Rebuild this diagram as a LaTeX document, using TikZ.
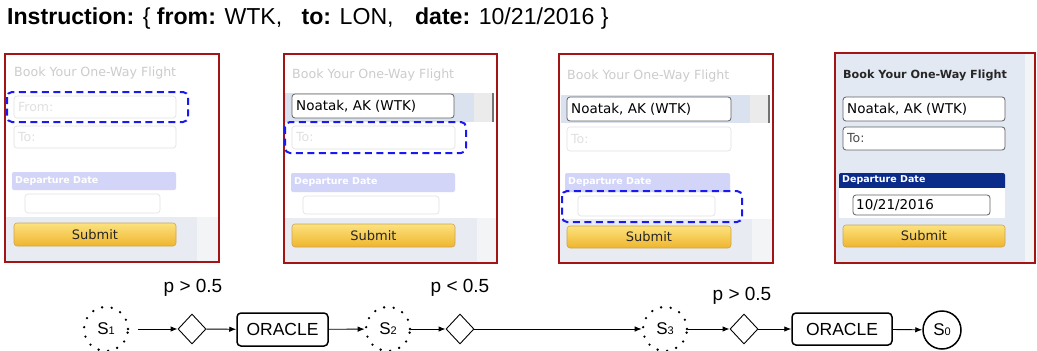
\documentclass[tikz,border=0pt]{standalone}
\usepackage{fontspec}
\setmainfont{Liberation Sans}
\newfontfamily\uifont{DejaVu Sans}
\usetikzlibrary{arrows.meta,shapes.geometric}
\definecolor{panelred}{HTML}{A31414}
\definecolor{focusblue}{HTML}{1A1AF0}
\definecolor{bandblue}{HTML}{D9E2EE}
\definecolor{lowgrey}{HTML}{E8ECF2}
\definecolor{lightside}{HTML}{F3F4F6}
\definecolor{fadebar}{HTML}{D2D5F7}
\definecolor{navy}{HTML}{0B2B8A}
\definecolor{btntop}{HTML}{FCE27E}
\definecolor{btnbot}{HTML}{EFB52E}
\definecolor{btnline}{HTML}{CDA550}
\definecolor{p4bg}{HTML}{E2E9F3}
\begin{document}
\begin{tikzpicture}[x=1pt,y=-1pt,
  panel/.style={draw=panelred, line width=2pt},
  field/.style={draw=black!62, fill=white, rounded corners=3pt, line width=0.8pt},
  faded/.style={draw=black!12, fill=white, rounded corners=3pt, line width=0.6pt},
  submitbtn/.style={draw=btnline, top color=btntop, bottom color=btnbot, rounded corners=3pt, line width=0.6pt},
  focus/.style={draw=focusblue, line width=2pt, dash pattern=on 7pt off 4.5pt, rounded corners=5pt},
  booktxt/.style={anchor=west, inner sep=0pt, font=\uifont\fontsize{12.6}{13}\selectfont, text=black!20},
  fieldtxt/.style={anchor=west, inner sep=0pt, font=\uifont\fontsize{13.5}{14}\selectfont},
  phtxt/.style={anchor=west, inner sep=0pt, font=\uifont\fontsize{12.5}{13}\selectfont, text=black!12},
  deptxt/.style={anchor=west, inner sep=0pt, font=\uifont\bfseries\fontsize{9.5}{10}\selectfont, text=white},
  subtxt/.style={inner sep=0pt, font=\uifont\fontsize{13}{14}\selectfont, text=black!85},
  state/.style={circle, minimum size=44pt, inner sep=0pt, font=\fontsize{17}{17}\selectfont},
  dotted state/.style={state, draw, line width=2.6pt, dash pattern=on 0pt off 9.6pt, line cap=round},
  choice/.style={diamond, draw, line width=0.9pt, minimum width=28pt, minimum height=30pt, inner sep=0pt},
  oracle/.style={draw, rounded corners=4pt, line width=1.5pt, inner sep=0pt, font=\fontsize{17.5}{18}\selectfont},
  prob/.style={inner sep=0pt, font=\fontsize{19}{19}\selectfont},
  conn/.style={-{Latex[length=7pt,width=5.5pt]}, line width=0.9pt}
]
\useasboundingbox (0,0) rectangle (1037,351);

% ---------- title ----------
\node[anchor=base west, inner sep=0pt, font=\fontsize{23.1}{24}\selectfont] (title) at (7,24)
  {\textbf{Instruction:} \{ \textbf{from:} WTK,\hspace{13pt} \textbf{to:} LON,\hspace{15pt} \textbf{date:} 10/21/2016 \}};

% ---------- panel 1 ----------
\fill[white] (5,54) rectangle (219,262);
\fill[lowgrey] (6,217) rectangle (197,262);
\fill[lightside] (197,217) rectangle (218,262);
\node[booktxt] (b1) at (14,73) {Book Your One-Way Flight};
\draw[faded] (14,96) rectangle (176,118);
\node[phtxt] (from1) at (18,107) {From:};
\draw[faded] (14,126) rectangle (176,148);
\node[phtxt] (to1) at (18,137) {To:};
\fill[fadebar, rounded corners=2pt] (12,172) rectangle (176,190);
\node[deptxt] (dep1) at (15,181.5) {Departure Date};
\draw[faded] (25,194) rectangle (160,213);
\draw[submitbtn] (14,223) rectangle (176,246);
\node[subtxt] (sub1) at (95,234.5) {Submit};
\draw[panel] (5,54) rectangle (219,262);
\draw[focus] (7,92) rectangle (188,122);

% ---------- panel 2 ----------
\fill[white] (284,54) rectangle (497,263);
\fill[bandblue] (285,93) rectangle (474,122);
\fill[black!8] (474,93) rectangle (492,122);
\fill[black!55] (492,93) rectangle (494,122);
\fill[lowgrey] (285,218) rectangle (477,263);
\fill[lightside] (477,218) rectangle (496,263);
\node[booktxt] (b2) at (292,75) {Book Your One-Way Flight};
\draw[field] (292,94) rectangle (454,118);
\node[fieldtxt] (from2) at (296,106.5) {Noatak, AK (WTK)};
\draw[faded] (292,126) rectangle (455,149);
\node[phtxt] (to2) at (296,137.5) {To:};
\fill[fadebar, rounded corners=2pt] (291,173) rectangle (455,192);
\node[deptxt] (dep2) at (294,182.5) {Departure Date};
\draw[faded] (303,196) rectangle (439,214);
\draw[submitbtn] (292,224) rectangle (455,247);
\node[subtxt] (sub2) at (373.5,235.5) {Submit};
\draw[panel] (284,54) rectangle (497,263);
\draw[focus] (285,122) rectangle (466,153);

% ---------- panel 3 ----------
\fill[white] (559,54) rectangle (773,263);
\fill[bandblue] (561,95) rectangle (750,123);
\fill[black!8] (750,95) rectangle (768,123);
\fill[black!55] (768,95) rectangle (770,123);
\fill[lowgrey] (560,219) rectangle (752,263);
\fill[lightside] (752,219) rectangle (772,263);
\node[booktxt] (b3) at (567,76) {Book Your One-Way Flight};
\draw[field] (567,97) rectangle (731,121);
\node[fieldtxt] (from3) at (571,109) {Noatak, AK (WTK)};
\draw[faded] (567,127) rectangle (731,151);
\node[phtxt] (to3) at (571,139) {To:};
\fill[fadebar, rounded corners=2pt] (565,173) rectangle (730,192);
\node[deptxt] (dep3) at (568,182.5) {Departure Date};
\draw[faded] (578,196) rectangle (715,216);
\draw[submitbtn] (567,226) rectangle (731,248);
\node[subtxt] (sub3) at (649,237) {Submit};
\draw[panel] (559,54) rectangle (773,263);
\draw[focus] (562,191) rectangle (742,222);

% ---------- panel 4 ----------
\fill[p4bg] (835,53) rectangle (1025,263);
\fill[lightside] (1025,53) rectangle (1035,263);
\node[anchor=west, inner sep=0pt, font=\uifont\bfseries\fontsize{11.2}{12}\selectfont, text=black!85] (b4) at (843,75) {Book Your One-Way Flight};
\draw[field] (843,97) rectangle (1005,121);
\node[fieldtxt] (from4) at (847,109) {Noatak, AK (WTK)};
\draw[field] (843,127) rectangle (1005,150);
\node[phtxt, text=black!70] (to4) at (847,138.5) {To:};
\fill[navy, rounded corners=2pt] (839,173) rectangle (1005,190);
\fill[navy] (839,182) rectangle (1005,188);
\fill[white] (839,188) rectangle (1005,218);
\node[deptxt] (dep4) at (842,180.5) {Departure Date};
\draw[field] (853,195) rectangle (990,215);
\node[fieldtxt] (date4) at (856,205) {10/21/2016};
\draw[submitbtn] (843,225) rectangle (1005,247);
\node[subtxt] (sub4) at (924,236) {Submit};
\draw[panel] (835,53) rectangle (1035,263);

% ---------- bottom diagram ----------
\node[dotted state] (s1) at (106,329) {S\fontsize{11}{11}\selectfont 1};
\node[choice] (d1) at (192,329) {};
\node[oracle, minimum width=91pt, minimum height=33pt] (o1) at (282.5,329.5) {ORACLE};
\node[dotted state] (s2) at (388,329) {S\fontsize{11}{11}\selectfont 2};
\node[choice] (d2) at (460,329) {};
\node[dotted state] (s3) at (665,329) {S\fontsize{11}{11}\selectfont 3};
\node[choice] (d3) at (744,329) {};
\node[oracle, minimum width=100pt, minimum height=32pt] (o2) at (842,329) {ORACLE};
\node[state, draw, line width=1.5pt, minimum size=38pt] (s0) at (942,330) {S\fontsize{11}{11}\selectfont 0};

\node[prob] (p1) at (193,288) {p > 0.5};
\node[prob] (p2) at (460,288) {p < 0.5};
\node[prob] (p3) at (742,296) {p > 0.5};

\draw[conn, shorten <=9pt] (s1) -- (d1);
\draw[conn] (d1) -- (o1);
\draw[conn] (o1) -- (s2);
\draw[conn] (s2) -- (d2);
\draw[conn] (d2) -- (s3);
\draw[conn] (s3) -- (d3);
\draw[conn] (d3) -- (o2);
\draw[conn] (o2) -- (s0);
\end{tikzpicture}
\end{document}
